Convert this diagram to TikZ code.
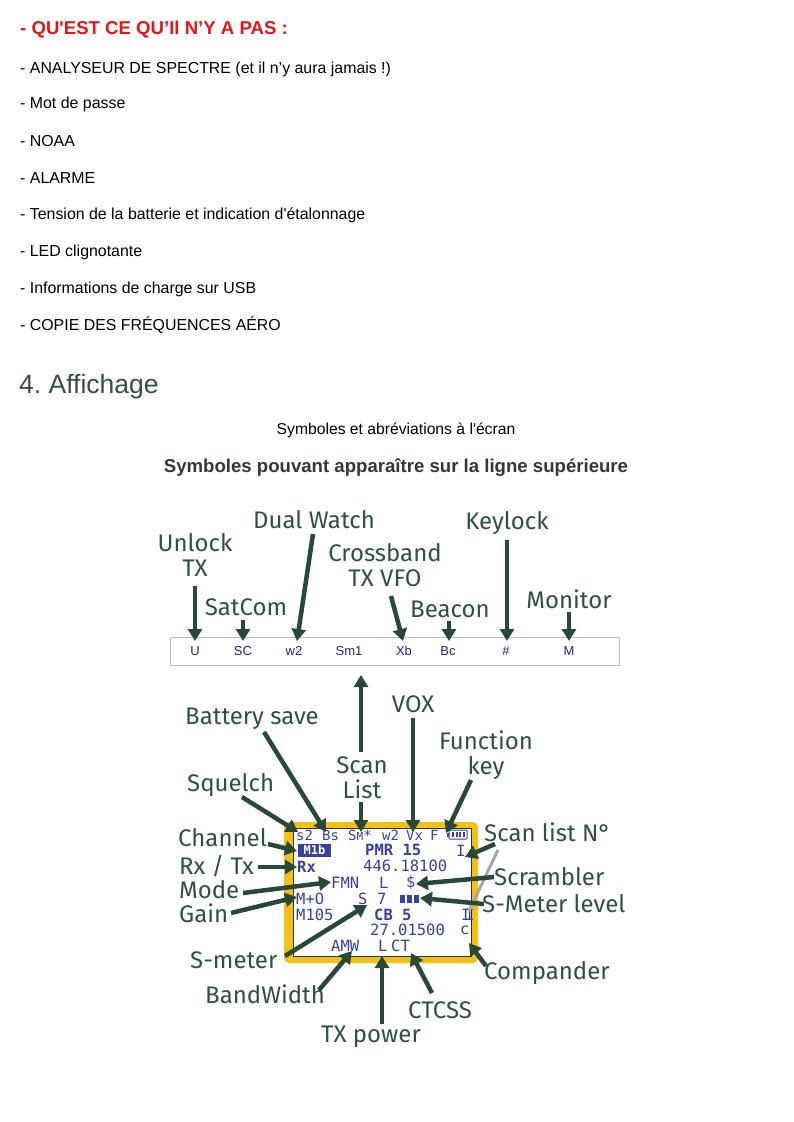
\documentclass[tikz,border=0pt]{standalone}
\usepackage{fontspec}
\setmainfont{Liberation Sans}[Ligatures=TeXOff]
\newfontfamily\lab{Fira Sans}
\newfontfamily\lcd{DejaVu Sans Mono}
\usetikzlibrary{arrows.meta}
\definecolor{lblc}{RGB}{45,82,66}
\definecolor{arrc}{RGB}{40,72,58}
\definecolor{lcdc}{RGB}{55,65,160}
\definecolor{barb}{RGB}{35,35,140}
\definecolor{redh}{RGB}{228,22,22}
\definecolor{headc}{RGB}{55,78,70}
\definecolor{subc}{RGB}{50,56,56}
\definecolor{gold}{RGB}{242,192,22}
\begin{document}
\begin{tikzpicture}[x=1pt,y=-1pt,
  lbl/.style={font=\lab\fontsize{24}{25}\selectfont, text=lblc, inner sep=0pt, align=center},
  arr/.style={draw=arrc, line width=4.5pt, -{Triangle[width=14pt,length=12pt]}},
  lcdt/.style={font=\lcd\fontsize{15.5}{16}\selectfont, text=lcdc, inner sep=0pt, anchor=west},
  lcds/.style={lcdt, font=\lcd\fontsize{14}{15}\selectfont},
  lcdbold/.style={lcdt, font=\lcd\bfseries\fontsize{15.5}{16}\selectfont},
  body/.style={font=\fontsize{15.9}{17}\selectfont, anchor=west, inner sep=0pt},
  bar/.style={font=\fontsize{13}{14}\selectfont, text=barb, inner sep=0pt}]
\useasboundingbox[fill=white] (0,0) rectangle (793,1122);

% ---------- text part ----------
\node[body, font=\bfseries\fontsize{18.6}{20}\selectfont, text=redh] (h0) at (20,30) {- QU'EST CE QU’Il N’Y A PAS :};
\node[body] (t1) at (20,69) {- ANALYSEUR DE SPECTRE (et il n’y aura jamais !)};
\node[body] (t2) at (20,104) {- Mot de passe};
\node[body] (t3) at (20,141) {- NOAA};
\node[body] (t4) at (20,178) {- ALARME};
\node[body] (t5) at (20,215) {- Tension de la batterie et indication d'étalonnage};
\node[body] (t6) at (20,252) {- LED clignotante};
\node[body] (t7) at (20,289) {- Informations de charge sur USB};
\node[body] (t8) at (20,325) {- COPIE DES FRÉQUENCES AÉRO};
\node[body, font=\fontsize{26.5}{28}\selectfont, text=headc] (h4) at (19,387) {4.~Affichage};
\node[inner sep=0pt, font=\fontsize{15.7}{17}\selectfont] (s1) at (396,430) {Symboles et abréviations à l'écran};
\node[inner sep=0pt, font=\bfseries\fontsize{18.6}{20}\selectfont, text=subc] (s2) at (396,468) {Symboles pouvant apparaître sur la ligne supérieure};

% ---------- top bar ----------
\draw[draw=black!25, fill=white] (170,637) rectangle (619,665);
\node[bar] (bU) at (195,651) {U};
\node[bar] (bSC) at (243,651) {SC};
\node[bar] (bw2) at (294,651) {w2};
\node[bar] (bSm) at (349,651) {Sm1};
\node[bar] (bXb) at (404,651) {Xb};
\node[bar] (bBc) at (448,651) {Bc};
\node[bar] (bHash) at (506,651) {\#};
\node[bar] (bM) at (569,651) {M};

\node[lbl] (unlock) at (195,555) {Unlock\\TX};
\node[lbl] (satcom) at (246,607) {SatCom};
\node[lbl] (dual) at (314,520) {Dual Watch};
\node[lbl] (cross) at (385,565) {Crossband\\TX VFO};
\node[lbl] (beacon) at (450,609) {Beacon};
\node[lbl] (keylock) at (507,523) {Keylock};
\node[lbl] (monitor) at (569,599) {Monitor};

\coordinate (cU) at (195,586); \coordinate (tU) at (195,641);
\coordinate (cSC) at (243,620); \coordinate (tSC) at (243,641);
\coordinate (cW) at (313,534); \coordinate (tW) at (297,641);
\coordinate (cX) at (391,596); \coordinate (tX) at (403,641);
\coordinate (cB) at (449,621); \coordinate (tB) at (449,641);
\coordinate (cK) at (507,540); \coordinate (tK) at (507,641);
\coordinate (cM) at (569,612); \coordinate (tM) at (569,641);
\draw[arr] (cU) -- (tU);
\draw[arr] (cSC) -- (tSC);
\draw[arr] (cW) -- (tW);
\draw[arr] (cX) -- (tX);
\draw[arr] (cB) -- (tB);
\draw[arr] (cK) -- (tK);
\draw[arr] (cM) -- (tM);

% ---------- LCD ----------
\draw[fill=gold, draw=none, rounded corners=5pt] (284,822) rectangle (478,963);
\draw[fill=white, draw=black!80, line width=0.8pt] (293,828) rectangle (471,956);

% row 1
\node[lcds] (ls2) at (296,835) {s2};
\node[lcds] (lBs) at (322,835) {Bs};
\node[lcds] (lSM) at (348,835) {S{\fontsize{11}{11}\selectfont M}*};
\node[lcds] (lw2) at (382,835) {w2};
\node[lcds] (lVx) at (406,835) {Vx};
\node[lcds] (lF) at (430,835) {F};
\draw[lcdc, line width=1pt, rounded corners=1pt] (449,830) rectangle (467,839);
\fill[lcdc] (447,832.5) rectangle (449,836.5);
\foreach \bx in {452,455.5,459,462.5} \fill[lcdc] (\bx,831.8) rectangle (\bx+2,837.2);
% row 2
\fill[lcdc] (298,844) rectangle (331,857);
\node[inner sep=0pt, text=white, font=\lcd\bfseries\fontsize{12}{12}\selectfont] (lM1b) at (314.5,850.5) {M1b};
\node[lcdbold] (lPMR) at (365,850) {PMR 15};
\node[lcdt] (lI) at (456,851) {I};
% row 3
\node[lcdbold] (lRx) at (297,867) {Rx};
\node[lcdt] (lfreq1) at (363,866) {446.18100};
% row 4
\node[lcdt] (lFMN) at (331,883) {FMN};
\node[lcdt] (lL1) at (379,883) {L};
\node[lcdt] (lDol) at (406,883) {\$};
% row 5
\node[lcdt] (lMO) at (296,899) {M+O};
\node[lcdt] (lS) at (358,899) {S};
\node[lcdt] (l7) at (377,899) {7};
\foreach \bx in {400,407,414} \fill[lcdc] (\bx,895) rectangle (\bx+5,903);
% row 6
\node[lcdt] (lM105) at (296,915) {M105};
\node[lcdbold] (lCB) at (374,915) {CB 5};
\node[lcdt] (lII) at (461,915) {I\kern-5.5pt I};
% row 7
\node[lcdt] (lfreq2) at (370,930) {27.01500};
\node[lcdt] (lc) at (460,930) {c};
% row 8
\node[lcdt] (lAMW) at (331,946) {AMW};
\node[lcdt] (lL2) at (378,946) {L};
\node[lcdt] (lCT) at (391,946) {CT};

% ---------- LCD labels ----------
\node[lbl] (scanlist) at (362,778) {Scan\\List};
\node[lbl] (bsave) at (252,719) {Battery save};
\node[lbl] (vox) at (413,704) {VOX};
\node[lbl] (func) at (486,755) {Function\\key};
\node[lbl, anchor=west] (squelch) at (187,785) {Squelch};
\node[lbl, anchor=west] (channel) at (178,838) {Channel};
\node[lbl, anchor=west] (rxtx) at (179,866) {Rx / Tx};
\node[lbl, anchor=west] (mode) at (179,890) {Mode};
\node[lbl, anchor=west] (gain) at (179,913) {Gain};
\node[lbl, anchor=west] (smeter) at (190,960) {S-meter};
\node[lbl, anchor=west] (bw) at (205,994) {BandWidth};
\node[lbl] (txp) at (371,1037) {TX power};
\node[lbl] (ctcss) at (440,1010) {CTCSS};
\node[lbl, anchor=west] (comp) at (484,973) {Compander};
\node[lbl, anchor=west] (smlev) at (482,904) {S-Meter level};
\node[lbl, anchor=west] (scr) at (494,877) {Scrambler};
\node[lbl, anchor=west] (scanno) at (484,832) {Scan list N°};

\draw[gray!70, line width=3pt] (498,850) -- (469,911);

\coordinate (cSLu) at (361,752); \coordinate (tSLu) at (361,675);
\coordinate (cSLd) at (361,802); \coordinate (tSLd) at (361,832);
\coordinate (cBs) at (264,732); \coordinate (tBs) at (326,832);
\coordinate (cSq) at (242,797); \coordinate (tSq) at (298,832);
\coordinate (cVox) at (413,718); \coordinate (tVox) at (413,832);
\coordinate (cFn) at (471,780); \coordinate (tFn) at (446,833);
\coordinate (cCh) at (268,844); \coordinate (tCh) at (297,851);
\coordinate (cRx) at (258,867); \coordinate (tRx) at (297,867);
\coordinate (cMo) at (243,893); \coordinate (tMo) at (331,882);
\coordinate (cGa) at (231,913); \coordinate (tGa) at (297,897);
\coordinate (cSm) at (285,956); \coordinate (tSm) at (367,905);
\coordinate (cBw) at (319,990); \coordinate (tBw) at (352,951);
\coordinate (cTx) at (382,1024); \coordinate (tTx) at (382,956);
\coordinate (cCt) at (432,993); \coordinate (tCt) at (411,953);
\coordinate (cCo) at (486,966); \coordinate (tCo) at (469,943);
\coordinate (cSl) at (484,904); \coordinate (tSl) at (420,898);
\coordinate (cSc) at (494,877); \coordinate (tSc) at (416,884);
\coordinate (cSn) at (495,844); \coordinate (tSn) at (465,857);

\draw[arr] (cSLu) -- (tSLu);
\draw[arr] (cSLd) -- (tSLd);
\draw[arr] (cBs) -- (tBs);
\draw[arr] (cSq) -- (tSq);
\draw[arr] (cVox) -- (tVox);
\draw[arr] (cFn) -- (tFn);
\draw[arr] (cCh) -- (tCh);
\draw[arr] (cRx) -- (tRx);
\draw[arr] (cMo) -- (tMo);
\draw[arr] (cGa) -- (tGa);
\draw[arr] (cSm) -- (tSm);
\draw[arr] (cBw) -- (tBw);
\draw[arr] (cTx) -- (tTx);
\draw[arr] (cCt) -- (tCt);
\draw[arr] (cCo) -- (tCo);
\draw[arr] (cSl) -- (tSl);
\draw[arr] (cSc) -- (tSc);
\draw[arr] (cSn) -- (tSn);
\end{tikzpicture}
\end{document}
